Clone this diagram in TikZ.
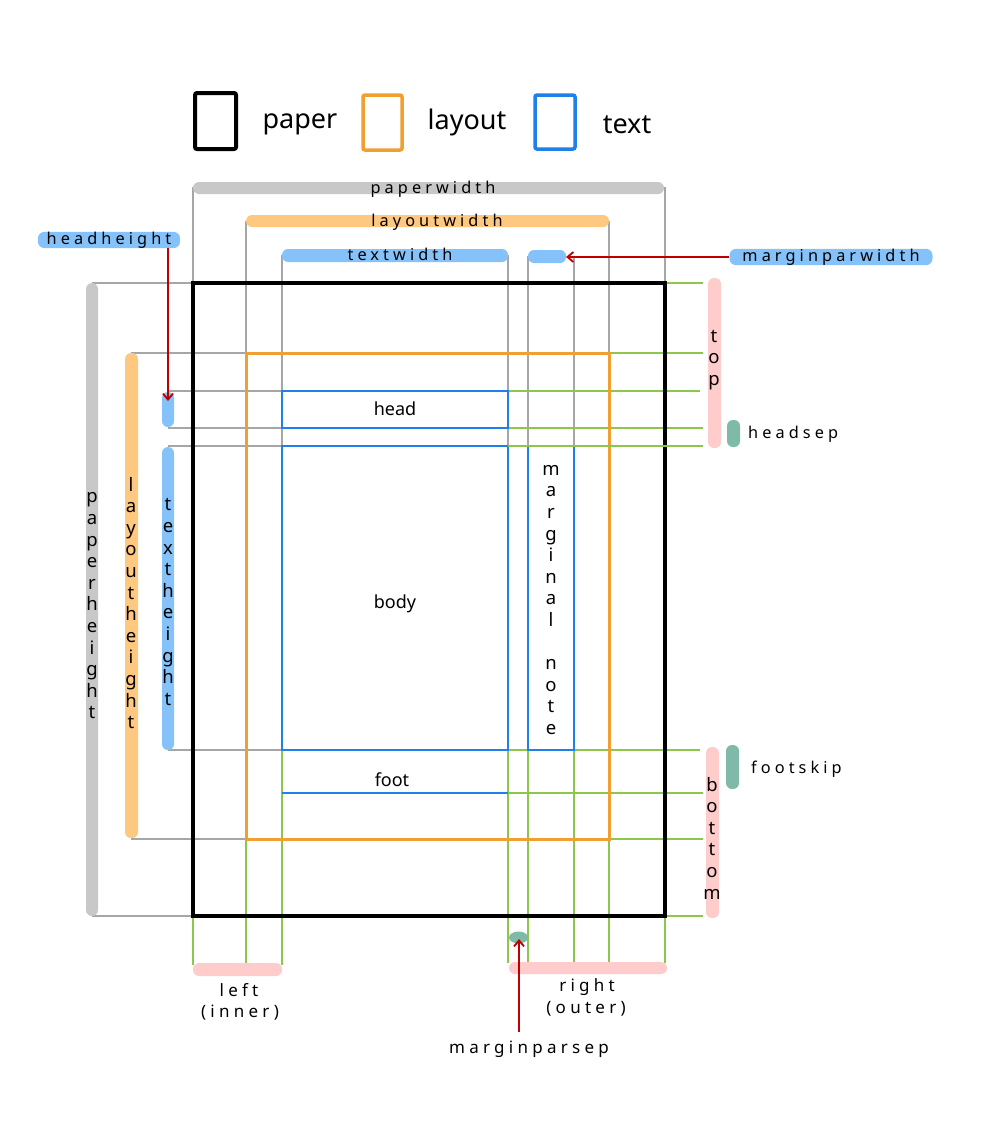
\documentclass[tikz,border=0pt]{standalone}
\usepackage{fontspec}
\setmainfont{Noto Sans}
\newfontfamily\spacedfont[LetterSpace=25]{Noto Sans}
\usetikzlibrary{arrows.meta}
\definecolor{lineGray}{RGB}{166,166,166}
\definecolor{lineGreen}{RGB}{140,198,75}
\definecolor{barGray}{RGB}{200,200,200}
\definecolor{barOrange}{RGB}{255,200,128}
\definecolor{barBlue}{RGB}{133,194,250}
\definecolor{barPink}{RGB}{255,204,204}
\definecolor{barTeal}{RGB}{127,186,168}
\definecolor{boxOrange}{RGB}{240,160,48}
\definecolor{boxBlue}{RGB}{31,128,234}
\definecolor{arrowRed}{RGB}{192,0,0}
\begin{document}
\begin{tikzpicture}[x=1pt,y=-1pt,
  gline/.style={draw=lineGray, line width=1.2pt},
  grline/.style={draw=lineGreen, line width=1.6pt},
  barfill/.style={fill=#1, rounded corners=6pt},
  stack/.style={align=center, inner sep=0pt, font=\fontsize{18.5}{21.6}\selectfont},
  spaced/.style={inner sep=0pt, anchor=base, font=\spacedfont\fontsize{16.3}{18}\selectfont},
  pill/.style={fill=#1, rounded corners=6.5pt, inner sep=0pt, minimum height=13pt, font=\spacedfont\fontsize{16.3}{18}\selectfont},
  legtext/.style={inner sep=0pt, anchor=base, font=\fontsize{27}{30}\selectfont},
  boxtext/.style={inner sep=0pt, anchor=base, font=\fontsize{18}{20}\selectfont},
  redarrow/.style={draw=arrowRed, line width=1.8pt, -{Straight Barb[length=6pt,width=10pt]}}
]
\useasboundingbox (0,0) rectangle (1000,1132);
\fill[white] (0,0) rectangle (1000,1132);

% ---------- legend ----------
\draw[line width=4pt, rounded corners=2pt] (195,93) rectangle (236,149);
\node[legtext] (lpaper) at (300,128) {paper};
\draw[draw=boxOrange, line width=3.5pt, rounded corners=2pt] (363,95) rectangle (402,150);
\node[legtext] (llayout) at (467,129) {layout};
\draw[draw=boxBlue, line width=3.5pt, rounded corners=2pt] (535,95) rectangle (575,149);
\node[legtext] (ltext) at (627,133) {text};

% ---------- gray guide lines ----------
\draw[gline] (193,187) -- (193,283);
\draw[gline] (246,221) -- (246,353);
\draw[gline] (282,255) -- (282,391);
\draw[gline] (282,428) -- (282,446);
\draw[gline] (508,255) -- (508,391);
\draw[gline] (508,428) -- (508,446);
\draw[gline] (528,256) -- (528,446);
\draw[gline] (574,256) -- (574,446);
\draw[gline] (609,221) -- (609,353);
\draw[gline] (665,187) -- (665,283);
\draw[gline] (92,283) -- (193,283);
\draw[gline] (131,353) -- (246,353);
\draw[gline] (168,391) -- (282,391);
\draw[gline] (168,428) -- (282,428);
\draw[gline] (168,446) -- (282,446);
\draw[gline] (168,750) -- (282,750);
\draw[gline] (131,839) -- (246,839);
\draw[gline] (92,916) -- (193,916);

% ---------- green guide lines ----------
\draw[grline] (193,916) -- (193,965);
\draw[grline] (246,839) -- (246,965);
\draw[grline] (282,750) -- (282,965);
\draw[grline] (508,750) -- (508,963);
\draw[grline] (528,750) -- (528,963);
\draw[grline] (574,750) -- (574,963);
\draw[grline] (609,839) -- (609,963);
\draw[grline] (665,916) -- (665,963);
\draw[grline] (665,283) -- (703,283);
\draw[grline] (609,353) -- (703,353);
\draw[grline] (508,391) -- (700,391);
\draw[grline] (508,428) -- (703,428);
\draw[grline] (508,750) -- (700,750);
\draw[grline] (508,793) -- (703,793);
\draw[grline] (609,839) -- (703,839);
\draw[grline] (665,916) -- (703,916);

% ---------- page boxes ----------
\draw[line width=4pt] (193,283) rectangle (665,916);
\draw[draw=boxOrange, line width=3pt] (246,353) rectangle (609,839);
\draw[draw=boxBlue, line width=2pt] (282,391) rectangle (508,428);
\draw[draw=boxBlue, line width=2pt] (282,446) rectangle (508,750);
\draw[draw=boxBlue, line width=2pt] (282,793) -- (508,793);
\draw[draw=boxBlue, line width=2pt] (528,446) rectangle (574,750);
\draw[grline] (508,446) -- (703,446);
\node[boxtext] (head) at (395,415) {head};
\node[boxtext] (body) at (395,608) {body};
\node[boxtext] (foot) at (392,786) {foot};
\node[stack] (mnote) at (551,600) {m\\a\\r\\g\\i\\n\\a\\l\\[21.6pt]n\\o\\t\\e};

% ---------- top bars ----------
\fill[barfill=barGray] (193,182) rectangle (664,194);
\node[spaced] (pw) at (433,193) {paperwidth};
\fill[barfill=barOrange] (246,215) rectangle (609,227);
\node[spaced] (lw) at (437,226) {layoutwidth};
\fill[barfill=barBlue] (282,249) rectangle (508,262);
\node[spaced] (tw) at (400,260) {textwidth};
\fill[barfill=barBlue] (528,250) rectangle (566,263);
\coordinate (mpwtip) at (566,257);
\node[pill=barBlue, minimum width=203pt] (mpw) at (831,257) {marginparwidth};
\draw[redarrow] (mpw.west) -- (mpwtip);

% ---------- left bars ----------
\fill[barfill=barGray] (86,283) rectangle (98,916);
\node[stack] (ph) at (92,606) {p\\a\\p\\e\\r\\h\\e\\i\\g\\h\\t};
\fill[barfill=barOrange] (125,353) rectangle (138,838);
\node[stack] (lh) at (131,603) {l\\a\\y\\o\\u\\t\\h\\e\\i\\g\\h\\t};
\fill[barfill=barBlue] (162,392) rectangle (174,427);
\fill[barfill=barBlue] (162,447) rectangle (174,750);
\node[stack] (th) at (168,602) {t\\e\\x\\t\\h\\e\\i\\g\\h\\t};
\node[pill=barBlue, minimum width=142pt] (hh) at (109,240) {headheight};
\coordinate (hhtip) at (168,401);
\draw[redarrow] (hh.south -| hhtip) -- (hhtip);

% ---------- right bars ----------
\fill[barfill=barPink] (708,278) rectangle (721,448);
\node[stack] (top) at (714,360) {t\\o\\p};
\fill[barfill=barTeal] (727,420) rectangle (740,447);
\node[spaced, anchor=base west] (hsep) at (748,438) {headsep};
\fill[barfill=barPink] (706,747) rectangle (719,918);
\node[stack] (bot) at (712,838) {b\\o\\t\\t\\o\\m};
\fill[barfill=barTeal] (726,745) rectangle (739,789);
\node[spaced, anchor=base west] (fskip) at (751,773) {footskip};

% ---------- bottom bars ----------
\fill[barfill=barPink] (193,963) rectangle (282,976);
\node[spaced, font=\spacedfont\fontsize{17}{19}\selectfont] (left) at (239,996) {left};
\node[spaced, font=\spacedfont\fontsize{17}{19}\selectfont] (inner) at (240,1017) {(inner)};
\fill[barfill=barPink] (509,962) rectangle (667,974);
\node[spaced, font=\spacedfont\fontsize{17}{19}\selectfont] (right) at (587,991) {right};
\node[spaced, font=\spacedfont\fontsize{17}{19}\selectfont] (outer) at (586,1013) {(outer)};
\fill[barTeal] (518.5,937.5) ellipse (9.5pt and 6pt);
\coordinate (mpstip) at (519,939);
\node[spaced, font=\spacedfont\fontsize{17}{19}\selectfont] (mps) at (529,1053) {marginparsep};
\draw[redarrow] (519,1032) -- (mpstip);
\end{tikzpicture}
\end{document}
